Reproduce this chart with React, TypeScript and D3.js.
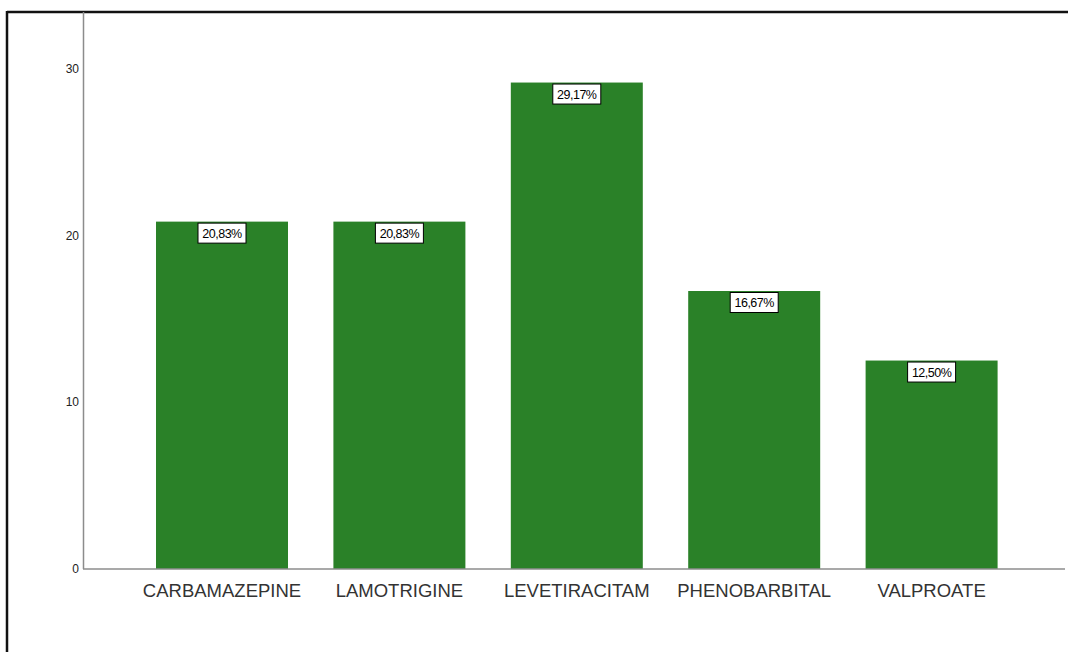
import React from "react";
import * as d3 from "d3";

const categories = ["CARBAMAZEPINE", "LAMOTRIGINE", "LEVETIRACITAM", "PHENOBARBITAL", "VALPROATE"];
const values = [20.83, 20.83, 29.17, 16.67, 12.5];
const labels = ["20,83%", "20,83%", "29,17%", "16,67%", "12,50%"];
const yTicks = [0, 10, 20, 30];

const W = 1068;
const H = 652;

export default function App() {
  const x = d3
    .scaleBand<string>()
    .domain(categories)
    .range([133.3, 1020.3])
    .paddingInner(0.256)
    .paddingOuter(0.128);
  const y = d3.scaleLinear().domain([0, 33.4]).range([569, 12]);
  const font = "Arial, 'Liberation Sans', sans-serif";
  return (
    <svg
      width={W}
      height={H}
      style={{ position: "absolute", left: 0, top: 0, background: "#fff" }}
      fontFamily={font}
    >
      <rect x={0} y={0} width={W} height={H} fill="#fff" />
      {/* frame */}
      <line x1={7} y1={12} x2={W} y2={12} stroke="#111" strokeWidth={2.5} />
      <line x1={7} y1={11} x2={7} y2={H} stroke="#111" strokeWidth={2.5} />
      {/* bars */}
      {categories.map((c, i) => (
        <rect
          key={c}
          x={x(c)}
          y={y(values[i])}
          width={x.bandwidth()}
          height={y(0) - y(values[i])}
          fill="#2a8128"
        />
      ))}
      {/* axes */}
      <line x1={83.5} y1={12} x2={83.5} y2={y(0)} stroke="#8c8c8c" strokeWidth={1.5} />
      <line x1={83} y1={y(0)} x2={1065} y2={y(0)} stroke="#8c8c8c" strokeWidth={1.5} />
      {yTicks.map((t) => (
        <text
          key={t}
          x={79}
          y={y(t)}
          dy="0.35em"
          textAnchor="end"
          fontSize={12}
          fill="#222"
        >
          {t}
        </text>
      ))}
      {categories.map((c) => (
        <text
          key={c}
          x={(x(c) as number) + x.bandwidth() / 2}
          y={597}
          textAnchor="middle"
          fontSize={18.5}
          fill="#333"
        >
          {c}
        </text>
      ))}
      {/* value labels */}
      {categories.map((c, i) => {
        const cx = (x(c) as number) + x.bandwidth() / 2;
        const top = y(values[i]);
        const bw = 48;
        const bh = 20;
        return (
          <g key={c + "lbl"}>
            <rect
              x={cx - bw / 2}
              y={top + 1.5}
              width={bw}
              height={bh}
              fill="#fff"
              stroke="#000"
              strokeWidth={1}
            />
            <text
              x={cx}
              y={top + 1.5 + bh / 2}
              dy="0.36em"
              textAnchor="middle"
              fontSize={12.5}
              letterSpacing={-0.5}
              fill="#000"
            >
              {labels[i]}
            </text>
          </g>
        );
      })}
    </svg>
  );
}
